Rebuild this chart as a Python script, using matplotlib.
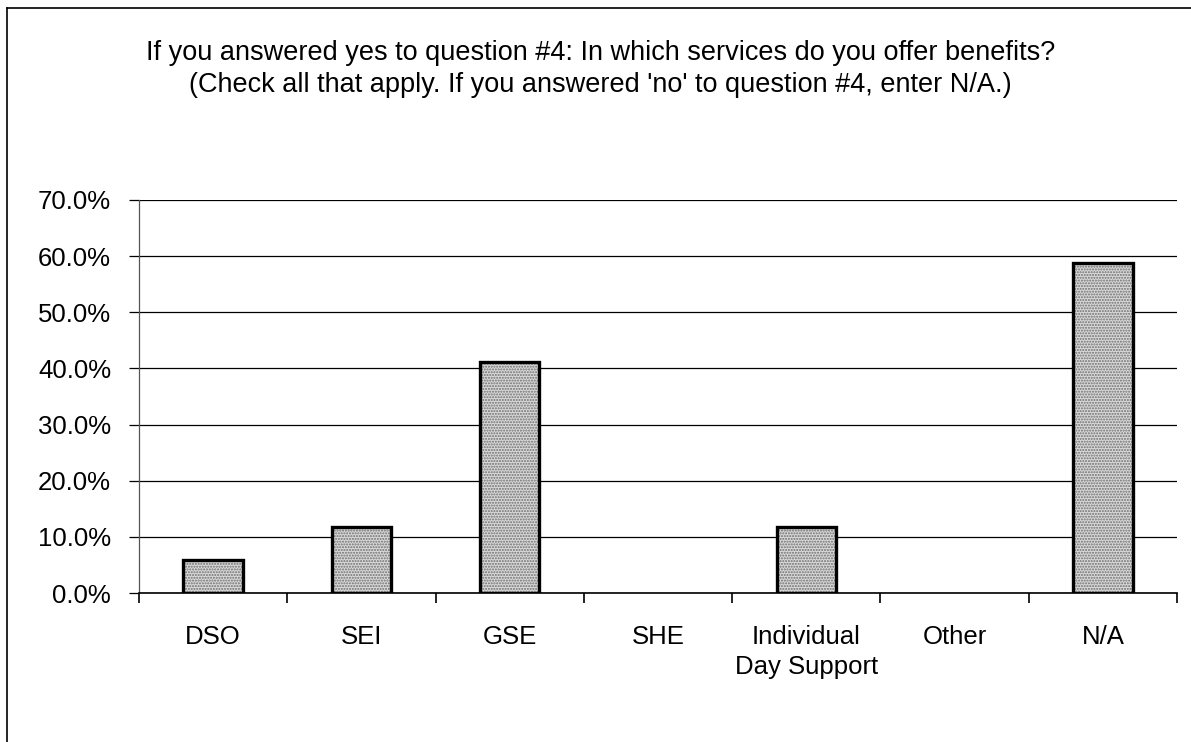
import matplotlib
matplotlib.use("Agg")
import matplotlib.pyplot as plt
from matplotlib.lines import Line2D
from matplotlib.ticker import FixedLocator, FuncFormatter

# Survey responses (% of respondents)
services = ["DSO", "SEI", "GSE", "SHE", "Individual\nDay Support", "Other", "N/A"]
percent = [5.9, 11.8, 41.2, 0.0, 11.8, 0.0, 58.8]
y_ticks = [0, 10, 20, 30, 40, 50, 60, 70]

title_1 = "If you answered yes to question #4: In which services do you offer benefits?"
title_2 = "(Check all that apply. If you answered 'no' to question #4, enter N/A.)"

plt.rcParams["font.family"] = ["Liberation Sans", "DejaVu Sans"]

fig = plt.figure(figsize=(11.91, 7.42), dpi=100)
ax = fig.add_axes([0.1167, 0.2008, 0.8716, 0.5297])

x = list(range(len(services)))

# stippled grey fill, then a heavy black outline on top (none for empty bars)
ax.bar(x, percent, width=0.4, color="#d9d9d9", edgecolor="#6e6e6e",
       hatch="......", linewidth=0, zorder=3)
ax.bar(x, percent, width=0.4, fill=False, edgecolor="black",
       linewidth=[2.4 if v > 0 else 0 for v in percent], zorder=4)

ax.set_xlim(-0.5, len(services) - 0.5)
ax.set_ylim(0, 70)

ax.yaxis.set_major_locator(FixedLocator(y_ticks))
ax.yaxis.set_major_formatter(FuncFormatter(lambda v, p: f"{v:.1f}%"))
ax.grid(axis="y", color="black", linewidth=0.9, zorder=1)

# tick marks sit between categories, labels sit under the bars
ax.xaxis.set_major_locator(FixedLocator([i - 0.5 for i in range(len(services) + 1)]))
ax.xaxis.set_major_formatter(FuncFormatter(lambda v, p: ""))
ax.xaxis.set_minor_locator(FixedLocator(x))
ax.set_xticklabels(services, minor=True)
ax.tick_params(axis="x", which="major", direction="out", length=7, width=1.2, color="black")
ax.tick_params(axis="x", which="minor", length=0, pad=23, labelsize=18.5)
ax.tick_params(axis="y", direction="out", length=7, width=0.9, pad=13, labelsize=18.5)
for lab in ax.get_xticklabels(minor=True):
    lab.set_linespacing(1.3)

for side in ["top", "right"]:
    ax.spines[side].set_visible(False)
ax.spines["left"].set_color("#555555")
ax.spines["left"].set_linewidth(0.9)
ax.spines["bottom"].set_linewidth(1.2)

fig.text(0.504, 1 - 60 / 742, title_1, ha="center", va="baseline", fontsize=19.5)
fig.text(0.504, 1 - 92 / 742, title_2, ha="center", va="baseline", fontsize=19.5)

# outer chart border (left and top edges)
fig.add_artist(Line2D([7 / 1191, 7 / 1191], [0, 1 - 8 / 742],
                      transform=fig.transFigure, color="black", linewidth=1.2))
fig.add_artist(Line2D([7 / 1191, 1], [1 - 8 / 742, 1 - 8 / 742],
                      transform=fig.transFigure, color="black", linewidth=1.2))

fig.savefig("out.png", dpi=100)
